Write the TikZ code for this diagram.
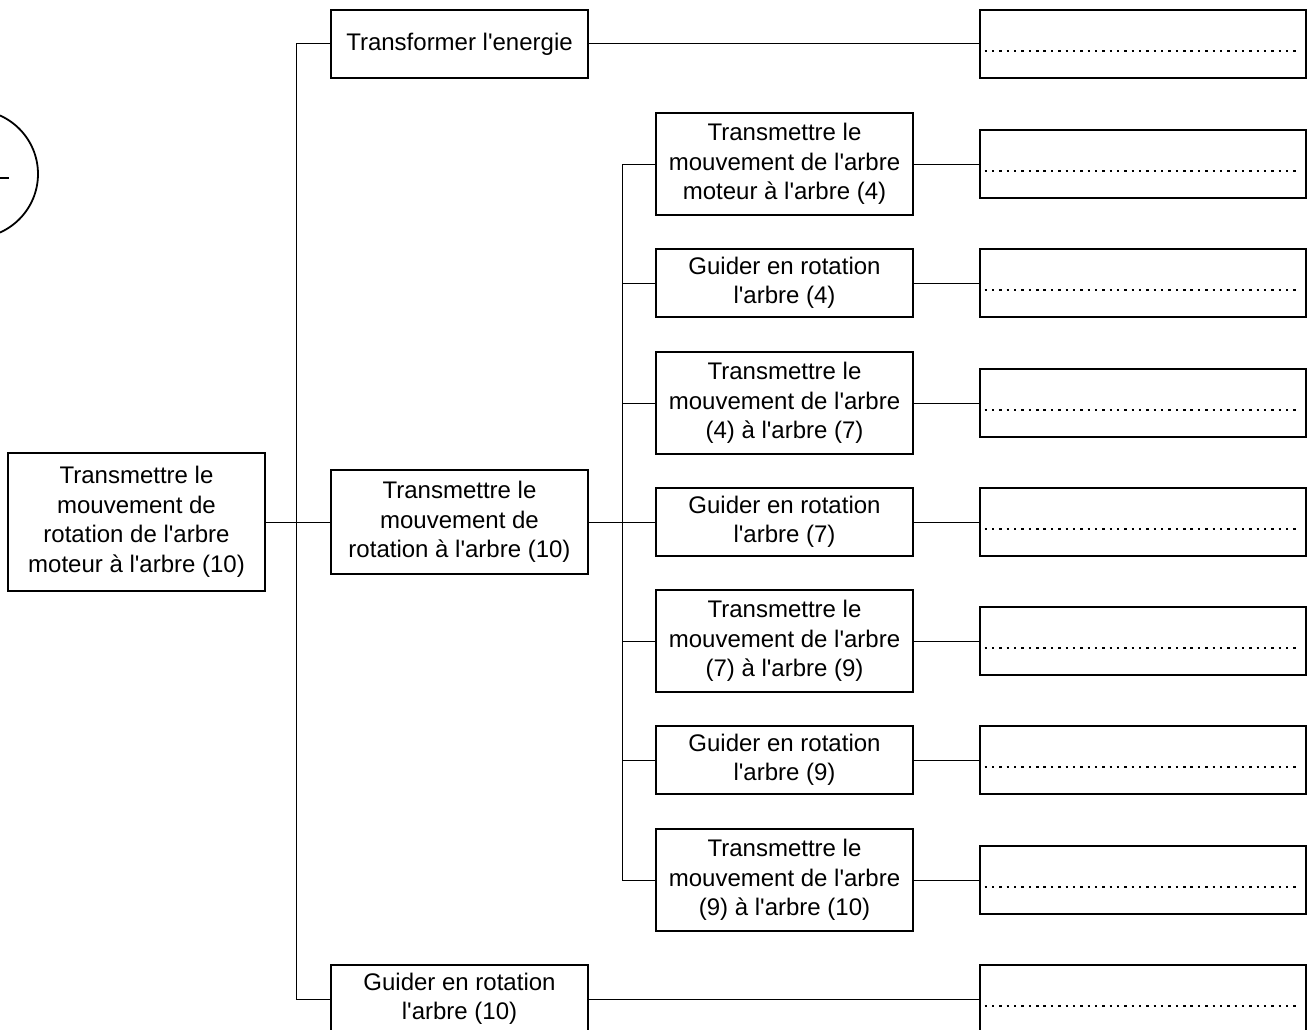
\documentclass[tikz,border=0pt]{standalone}
\usepackage{fontspec}
\setmainfont{Liberation Sans}[Ligatures=TeXOff]
\begin{document}
\begin{tikzpicture}[x=1pt,y=-1pt,
  fbox/.style={draw, line width=2.7pt, minimum width=257pt, minimum height=68pt,
    align=center, inner sep=0pt, font=\fontsize{24}{29.5}\selectfont},
  tall/.style={minimum height=102pt},
  dbox/.style={draw, line width=2.7pt, minimum width=326pt, minimum height=68pt, inner sep=0pt},
  conn/.style={line width=1pt},
  dotline/.style={line width=2.6pt, dash pattern=on 2.4pt off 4.95pt}]
\useasboundingbox (0,0) rectangle (1309,1030);
% partial circle symbol at left edge
\node[circle, draw, line width=1.8pt, minimum size=128pt, inner sep=0pt] (sym) at (-26,174) {};
\coordinate (symr) at (9,178);
\draw[line width=1.8pt] (sym.center) ++(0,4) -- (symr);
% root
\node[fbox, minimum height=138pt] (r) at (136.5,522) {Transmettre le\\mouvement de\\rotation de l'arbre\\moteur à l'arbre (10)};
% level 2
\node[fbox] (a) at (459.5,44) {Transformer l'energie};
\node[fbox, minimum height=104pt] (b) at (459.5,522) {Transmettre le\\mouvement de\\rotation à l'arbre (10)};
\node[fbox] (c) at (459.5,999) {Guider en rotation\\l'arbre (10)};
% level 3
\node[fbox, tall] (t1) at (784.5,164) {Transmettre le\\mouvement de l'arbre\\moteur à l'arbre (4)};
\node[fbox] (g4) at (784.5,283) {Guider en rotation\\l'arbre (4)};
\node[fbox, tall] (t2) at (784.5,403) {Transmettre le\\mouvement de l'arbre\\(4) à l'arbre (7)};
\node[fbox] (g7) at (784.5,522) {Guider en rotation\\l'arbre (7)};
\node[fbox, tall] (t3) at (784.5,641) {Transmettre le\\mouvement de l'arbre\\(7) à l'arbre (9)};
\node[fbox] (g9) at (784.5,760) {Guider en rotation\\l'arbre (9)};
\node[fbox, tall] (t4) at (784.5,880) {Transmettre le\\mouvement de l'arbre\\(9) à l'arbre (10)};
% answer boxes
\foreach \n/\y in {d0/44,d1/164,d2/283,d3/403,d4/522,d5/641,d6/760,d7/880,d8/999}{
  \node[dbox] (\n) at (1143,\y) {};
  \draw[dotline] (\n.west) ++(6,7) -- ++(316,0);
}
% connectors
\draw[conn] (r.east) -- (b.west);
\draw[conn] (a.west) -- ++(-33,0) |- (c.west);
\draw[conn] (b.east) -- (g7.west);
\draw[conn] (t1.west) -- ++(-32,0) |- (t4.west);
\foreach \n in {g4,t2,t3,g9}{
  \draw[conn] (\n.west) -- ++(-32,0);
}
\draw[conn] (a.east) -- (d0.west);
\draw[conn] (t1.east) -- (d1.west);
\draw[conn] (g4.east) -- (d2.west);
\draw[conn] (t2.east) -- (d3.west);
\draw[conn] (g7.east) -- (d4.west);
\draw[conn] (t3.east) -- (d5.west);
\draw[conn] (g9.east) -- (d6.west);
\draw[conn] (t4.east) -- (d7.west);
\draw[conn] (c.east) -- (d8.west);
\end{tikzpicture}
\end{document}
